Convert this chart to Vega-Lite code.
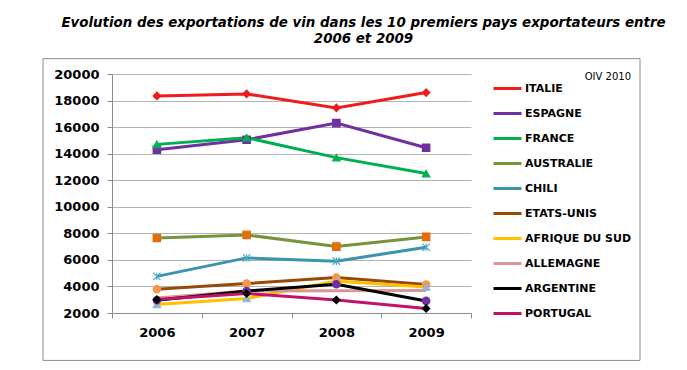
{
  "$schema": "https://vega.github.io/schema/vega-lite/v6.json",
  "width": 359,
  "height": 239,
  "autosize": {"type": "none"},
  "padding": {"left": 112, "top": 74, "right": 216, "bottom": 57},
  "background": "white",
  "title": {
    "text": ["Evolution des exportations de vin dans les 10 premiers pays exportateurs entre", "2006 et 2009"],
    "anchor": "start", "align": "center", "dx": 321, "offset": 13,
    "font": "DejaVu Sans", "fontSize": 13.4, "fontWeight": "bold", "fontStyle": "italic",
    "color": "black", "lineHeight": 16
  },
  "config": {"view": {"stroke": null}, "font": "DejaVu Sans"},
  "layer": [
    {
      "data": {"values": [{}]},
      "mark": {"type": "rect", "filled": false, "stroke": "#8c8c8c", "strokeWidth": 1},
      "encoding": {
        "x": {"datum": -0.1922, "type": "quantitative", "scale": {"domain": [0, 1], "nice": false, "zero": false}, "axis": null},
        "x2": {"datum": 1.4708},
        "y": {"datum": -1571, "type": "quantitative", "scale": {"domain": [2000, 20000], "nice": false, "zero": false},
          "axis": {"title": null, "values": [2000,4000,6000,8000,10000,12000,14000,16000,18000,20000], "format": "d", "grid": true, "gridColor": "#b3b3b3", "domainColor": "#8c8c8c", "tickColor": "#8c8c8c", "tickSize": 5, "labelFont": "DejaVu Sans", "labelFontSize": 13, "labelFontWeight": "bold", "labelColor": "black", "labelPadding": 8}},
        "y2": {"datum": 21155}
      }
    },
    {
      "data": {"values": [
        {"pays": "ITALIE", "annee": "2006", "valeur": 18350},
        {"pays": "ITALIE", "annee": "2007", "valeur": 18500},
        {"pays": "ITALIE", "annee": "2008", "valeur": 17450},
        {"pays": "ITALIE", "annee": "2009", "valeur": 18600},
        {"pays": "ESPAGNE", "annee": "2006", "valeur": 14300},
        {"pays": "ESPAGNE", "annee": "2007", "valeur": 15050},
        {"pays": "ESPAGNE", "annee": "2008", "valeur": 16300},
        {"pays": "ESPAGNE", "annee": "2009", "valeur": 14450},
        {"pays": "FRANCE", "annee": "2006", "valeur": 14700},
        {"pays": "FRANCE", "annee": "2007", "valeur": 15200},
        {"pays": "FRANCE", "annee": "2008", "valeur": 13700},
        {"pays": "FRANCE", "annee": "2009", "valeur": 12500},
        {"pays": "AUSTRALIE", "annee": "2006", "valeur": 7650},
        {"pays": "AUSTRALIE", "annee": "2007", "valeur": 7880},
        {"pays": "AUSTRALIE", "annee": "2008", "valeur": 7000},
        {"pays": "AUSTRALIE", "annee": "2009", "valeur": 7730},
        {"pays": "CHILI", "annee": "2006", "valeur": 4760},
        {"pays": "CHILI", "annee": "2007", "valeur": 6150},
        {"pays": "CHILI", "annee": "2008", "valeur": 5900},
        {"pays": "CHILI", "annee": "2009", "valeur": 6950},
        {"pays": "ETATS-UNIS", "annee": "2006", "valeur": 3790},
        {"pays": "ETATS-UNIS", "annee": "2007", "valeur": 4220},
        {"pays": "ETATS-UNIS", "annee": "2008", "valeur": 4670},
        {"pays": "ETATS-UNIS", "annee": "2009", "valeur": 4140},
        {"pays": "AFRIQUE DU SUD", "annee": "2006", "valeur": 2640},
        {"pays": "AFRIQUE DU SUD", "annee": "2007", "valeur": 3090},
        {"pays": "AFRIQUE DU SUD", "annee": "2008", "valeur": 4400},
        {"pays": "AFRIQUE DU SUD", "annee": "2009", "valeur": 3960},
        {"pays": "ALLEMAGNE", "annee": "2006", "valeur": 3130},
        {"pays": "ALLEMAGNE", "annee": "2007", "valeur": 3650},
        {"pays": "ALLEMAGNE", "annee": "2008", "valeur": 3680},
        {"pays": "ALLEMAGNE", "annee": "2009", "valeur": 3690},
        {"pays": "ARGENTINE", "annee": "2006", "valeur": 2960},
        {"pays": "ARGENTINE", "annee": "2007", "valeur": 3660},
        {"pays": "ARGENTINE", "annee": "2008", "valeur": 4170},
        {"pays": "ARGENTINE", "annee": "2009", "valeur": 2910},
        {"pays": "PORTUGAL", "annee": "2006", "valeur": 3010},
        {"pays": "PORTUGAL", "annee": "2007", "valeur": 3470},
        {"pays": "PORTUGAL", "annee": "2008", "valeur": 2980},
        {"pays": "PORTUGAL", "annee": "2009", "valeur": 2340}
      ]},
      "encoding": {
        "x": {"field": "annee", "type": "ordinal", "scale": {"type": "band", "paddingInner": 0, "paddingOuter": 0},
          "axis": {"title": null, "labelAngle": 0, "tickBand": "extent", "grid": false, "domainColor": "#8c8c8c", "tickColor": "#8c8c8c", "tickSize": 5, "labelFont": "DejaVu Sans", "labelFontSize": 13, "labelFontWeight": "bold", "labelColor": "black", "labelPadding": 8}},
        "y": {"field": "valeur", "type": "quantitative", "scale": {"domain": [2000, 20000], "nice": false, "zero": false},
          "axis": {"title": null, "values": [2000,4000,6000,8000,10000,12000,14000,16000,18000,20000], "format": "d", "grid": true, "gridColor": "#b3b3b3", "domainColor": "#8c8c8c", "tickColor": "#8c8c8c", "tickSize": 5, "labelFont": "DejaVu Sans", "labelFontSize": 13, "labelFontWeight": "bold", "labelColor": "black", "labelPadding": 8}}
      },
      "layer": [
        {
          "mark": {"type": "line", "strokeWidth": 3},
          "encoding": {
            "color": {"field": "pays", "type": "nominal",
              "scale": {
                "domain": ["ITALIE","ESPAGNE","FRANCE","AUSTRALIE","CHILI","ETATS-UNIS","AFRIQUE DU SUD","ALLEMAGNE","ARGENTINE","PORTUGAL"],
                "range": ["#ee1c1c","#7030a0","#00b050","#77933c","#3b93ad","#984807","#ffc000","#d99694","#000000","#c0146a"]
              },
              "legend": {"orient": "none", "legendX": 380, "legendY": -2, "title": "OIV 2010", "titleFont": "DejaVu Sans", "titleFontSize": 10, "titleFontWeight": "normal", "titleColor": "black", "titleAnchor": "end", "titlePadding": -6, "symbolType": "stroke", "symbolSize": 784, "symbolStrokeWidth": 3, "labelFont": "DejaVu Sans", "labelFontSize": 11, "labelFontWeight": "bold", "labelColor": "black", "labelOffset": 2, "clipHeight": 25, "rowPadding": 0, "padding": 0, "labelLimit": 300}
            }
          }
        },
        {
          "mark": {"type": "point", "filled": true, "size": 55, "opacity": 1, "strokeWidth": 1.2},
          "encoding": {
            "shape": {"field": "pays", "type": "nominal", "legend": null,
              "scale": {
                "domain": ["ITALIE","ESPAGNE","FRANCE","AUSTRALIE","CHILI","ETATS-UNIS","AFRIQUE DU SUD","ALLEMAGNE","ARGENTINE","PORTUGAL"],
                "range": ["diamond","square","triangle-up","square","M-1,-1L1,1M-1,1L1,-1M0,-1L0,1","circle","triangle-up","circle","circle","diamond"]
              }},
            "fill": {"field": "pays", "type": "nominal", "legend": null,
              "scale": {
                "domain": ["ITALIE","ESPAGNE","FRANCE","AUSTRALIE","CHILI","ETATS-UNIS","AFRIQUE DU SUD","ALLEMAGNE","ARGENTINE","PORTUGAL"],
                "range": ["#ee1c1c","#7030a0","#00b050","#e46c0a","#4bacc6","#f79646","#95b3d7","transparent","#7030a0","#000000"]
              }},
            "stroke": {"field": "pays", "type": "nominal", "legend": null,
              "scale": {
                "domain": ["ITALIE","ESPAGNE","FRANCE","AUSTRALIE","CHILI","ETATS-UNIS","AFRIQUE DU SUD","ALLEMAGNE","ARGENTINE","PORTUGAL"],
                "range": ["#ee1c1c","#7030a0","#00b050","#e46c0a","#4bacc6","#f79646","#95b3d7","transparent","#7030a0","#000000"]
              }}
          }
        }
      ],
      "resolve": {"legend": {"color": "independent", "shape": "independent", "fill": "independent", "stroke": "independent"}}
    }
  ],
  "resolve": {"scale": {"x": "independent"}}
}
